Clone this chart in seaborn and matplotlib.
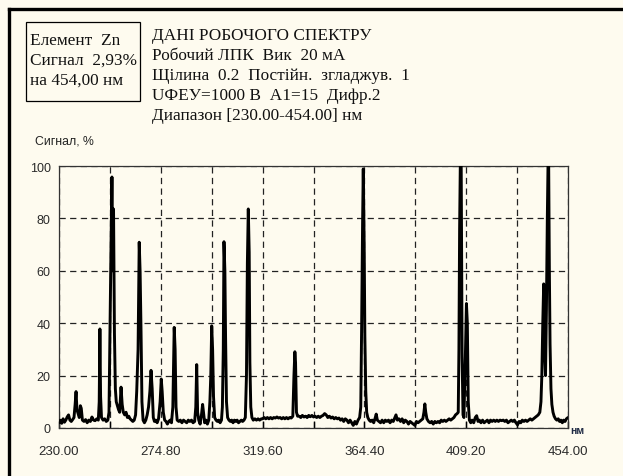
import matplotlib
matplotlib.use('Agg')
import matplotlib.pyplot as plt
from matplotlib.lines import Line2D
from matplotlib.patches import Rectangle
import seaborn as sns
import pandas as pd

# ---------------- data ----------------
wavelength = [
    230.0, 230.6, 231.2, 231.8, 232.4, 233.0, 233.6, 234.2, 234.8, 235.4,
    236.0, 236.6, 237.1, 237.5, 237.9, 238.4, 238.9, 239.4, 239.8, 240.3,
    241.0, 241.7, 242.4, 243.1, 243.8, 244.5, 245.2, 245.9, 246.6, 247.3,
    247.7, 248.0, 248.3, 248.7, 249.4, 250.1, 250.8, 251.5, 252.0, 252.5,
    252.9, 253.3, 253.7, 254.0, 254.4, 254.8, 255.2, 255.7, 256.2, 256.7,
    257.3, 257.8, 258.3, 258.9, 259.5, 260.1, 260.7, 261.3, 261.9, 262.5,
    263.1, 263.7, 264.2, 264.8, 265.3, 265.7, 266.1, 266.5, 267.0, 267.6,
    268.2, 268.8, 269.4, 270.0, 270.5, 271.0, 271.5, 272.0, 272.6, 273.2,
    273.8, 274.5, 275.0, 275.4, 275.9, 276.5, 277.1, 277.7, 278.3, 278.9,
    279.5, 280.1, 280.7, 281.1, 281.5, 282.0, 282.7, 283.4, 284.1, 284.8,
    285.5, 286.2, 286.9, 287.6, 288.3, 289.0, 289.7, 290.2, 290.6, 291.0,
    291.5, 292.1, 292.7, 293.2, 293.6, 294.1, 294.7, 295.3, 295.9, 296.4,
    296.8, 297.2, 297.6, 298.0, 298.5, 299.1, 299.7, 300.3, 300.9, 301.5,
    301.9, 302.3, 302.6, 303.0, 303.3, 303.7, 304.2, 304.8, 305.4, 306.0,
    306.6, 307.2, 307.8, 308.4, 309.0, 309.6, 310.2, 310.8, 311.4, 312.0,
    312.5, 312.9, 313.3, 313.7, 314.0, 314.4, 314.9, 315.5, 316.2, 316.9,
    317.6, 318.3, 319.0, 319.6, 320.3, 321.0, 321.7, 322.4, 323.1, 323.8,
    324.5, 325.2, 325.9, 326.6, 327.3, 328.0, 328.7, 329.4, 330.1, 330.8,
    331.5, 332.2, 332.9, 333.4, 333.8, 334.1, 334.5, 335.0, 335.7, 336.4,
    337.1, 337.8, 338.5, 339.2, 339.9, 340.6, 341.3, 342.0, 342.7, 343.4,
    344.1, 344.8, 345.5, 346.2, 346.9, 347.6, 348.3, 349.0, 349.7, 350.4,
    351.1, 351.8, 352.5, 353.2, 353.9, 354.6, 355.3, 356.0, 356.7, 357.4,
    358.1, 358.8, 359.5, 360.2, 360.9, 361.6, 362.3, 362.8, 363.2, 363.6,
    363.9, 364.3, 364.6, 365.0, 365.4, 365.9, 366.5, 367.1, 367.8, 368.5,
    369.2, 369.6, 370.1, 370.8, 371.5, 372.2, 372.9, 373.6, 374.3, 375.0,
    375.7, 376.4, 377.1, 377.8, 378.3, 378.9, 379.6, 380.3, 381.0, 381.7,
    382.4, 383.1, 383.8, 384.5, 385.2, 385.9, 386.6, 387.3, 388.0, 388.7,
    389.4, 390.1, 390.6, 391.0, 391.4, 391.9, 392.6, 393.3, 394.0, 394.7,
    395.4, 396.1, 396.8, 397.5, 398.2, 398.9, 399.6, 400.3, 401.0, 401.7,
    402.4, 403.1, 403.8, 404.5, 405.2, 405.7, 406.0, 406.3, 406.6, 407.0,
    407.4, 407.8, 408.2, 408.9, 409.3, 409.7, 410.1, 410.6, 411.2, 411.8,
    412.5, 413.2, 413.8, 414.4, 415.0, 415.7, 416.4, 417.1, 417.8, 418.5,
    419.2, 419.9, 420.6, 421.3, 422.0, 422.7, 423.4, 424.1, 424.8, 425.5,
    426.2, 426.9, 427.6, 428.3, 429.0, 429.7, 430.4, 431.1, 431.8, 432.5,
    433.2, 433.9, 434.6, 435.3, 436.0, 436.7, 437.4, 438.1, 438.8, 439.5,
    440.2, 440.9, 441.6, 442.1, 442.5, 442.9, 443.3, 443.7, 444.1, 444.5,
    444.9, 445.2, 445.5, 445.8, 446.1, 446.5, 446.9, 447.4, 447.9, 448.5,
    449.1, 449.7, 450.3, 450.9, 451.5, 452.1, 452.7, 453.3, 454.0,
]
signal = [
    2.0, 3.0, 1.8, 3.5, 2.2, 3.0, 4.2, 5.0, 3.0, 2.5,
    3.2, 4.0, 9.0, 13.9, 7.0, 5.5, 4.0, 8.5, 7.5, 3.0,
    2.5, 3.2, 2.0, 3.0, 2.5, 4.2, 3.0, 2.8, 3.5, 3.0,
    10.0, 37.8, 12.0, 4.0, 3.0, 3.5, 2.5, 3.0, 6.0, 43.0,
    70.0, 95.8, 60.0, 83.6, 36.0, 15.0, 10.0, 8.5, 7.0, 6.0,
    15.6, 9.0, 6.0, 5.0, 6.0, 4.0, 4.5, 3.5, 3.0, 2.5,
    3.0, 5.0, 14.0, 30.0, 70.9, 59.5, 37.0, 10.0, 3.0, 2.0,
    3.0, 5.0, 8.0, 14.0, 22.0, 15.0, 4.0, 2.5, 3.0, 2.0,
    3.5, 10.0, 18.7, 14.0, 6.0, 3.0, 2.5, 1.5, 2.5, 3.0,
    2.0, 8.0, 38.4, 30.0, 8.0, 3.0, 2.5, 3.0, 2.0, 3.0,
    2.5, 2.0, 3.0, 2.5, 3.0, 2.0, 2.5, 8.0, 24.2, 6.0,
    3.0, 1.5, 5.0, 9.0, 6.0, 2.0, 3.0, 1.5, 3.0, 10.0,
    20.0, 39.0, 30.0, 12.0, 4.0, 3.0, 2.5, 3.0, 2.0, 3.0,
    8.0, 30.0, 71.1, 60.0, 35.0, 10.0, 4.0, 3.0, 2.5, 3.0,
    2.0, 3.0, 2.5, 3.0, 2.0, 2.5, 3.0, 2.5, 3.0, 4.0,
    20.0, 63.0, 83.6, 67.0, 25.0, 8.0, 4.0, 3.0, 3.5, 3.0,
    3.5, 3.0, 3.5, 3.5, 4.0, 3.5, 4.0, 3.5, 4.0, 3.5,
    4.0, 3.8, 4.2, 3.8, 4.0, 3.5, 4.0, 3.5, 4.0, 3.5,
    4.0, 3.8, 4.5, 20.0, 29.1, 25.0, 6.0, 4.5, 4.5, 4.0,
    4.8, 4.2, 4.5, 4.0, 4.8, 4.3, 4.8, 4.2, 4.5, 4.0,
    4.5, 4.0, 4.5, 4.8, 5.5, 5.0, 4.0, 4.5, 3.8, 4.2,
    3.5, 4.0, 3.5, 3.8, 3.0, 3.5, 2.5, 3.5, 3.0, 2.0,
    3.0, 2.0, 1.0, 2.5, 1.5, 3.0, 4.0, 8.0, 40.0, 78.0,
    98.9, 70.0, 35.0, 14.0, 6.0, 4.0, 3.0, 2.5, 3.0, 2.0,
    4.0, 5.3, 3.0, 2.5, 2.0, 3.0, 2.0, 3.0, 2.5, 3.0,
    2.0, 3.0, 2.5, 4.0, 5.0, 3.0, 3.5, 2.5, 3.5, 2.0,
    3.0, 2.5, 1.5, 2.5, 2.0, 1.5, 1.0, 2.5, 2.0, 2.5,
    3.0, 3.5, 6.0, 9.2, 6.0, 3.5, 2.5, 2.0, 2.5, 1.5,
    2.5, 2.0, 2.5, 2.0, 3.0, 2.5, 3.0, 2.5, 3.0, 3.5,
    3.0, 3.5, 4.0, 5.0, 5.5, 6.0, 30.0, 76.0, 100.0, 100.0,
    27.0, 5.0, 4.0, 30.0, 47.5, 40.0, 10.0, 3.0, 2.0, 3.0,
    2.0, 4.0, 4.7, 2.5, 3.0, 2.0, 3.0, 2.0, 2.5, 3.0,
    2.0, 3.0, 2.5, 3.0, 2.5, 3.0, 2.5, 3.0, 2.8, 3.0,
    2.5, 3.0, 2.0, 2.5, 3.0, 2.5, 3.0, 2.0, 1.2, 2.5,
    2.0, 3.0, 2.5, 3.0, 2.5, 3.0, 3.5, 3.0, 3.5, 4.0,
    4.5, 5.0, 6.0, 10.0, 20.6, 40.0, 55.0, 30.0, 20.0, 45.0,
    80.0, 100.0, 100.0, 60.0, 32.0, 15.0, 9.0, 6.0, 4.5, 3.5,
    3.0, 3.5, 2.5, 3.0, 2.0, 3.0, 2.5, 3.5, 4.0,
]

x_ticks = [230.0, 252.4, 274.8, 297.2, 319.6, 342.0, 364.4, 386.8, 409.2, 431.6, 454.0]
x_tick_labels = ['230.00', '', '274.80', '', '319.60', '', '364.40', '', '409.20', '', '454.00']
y_ticks = [0, 20, 40, 60, 80, 100]
y_tick_labels = ['0', '20', '40', '60', '80', '100']

info_lines = ['Елемент  Zn', 'Сигнал  2,93%', 'на 454,00 нм']
header_lines = [
    'ДАНІ РОБОЧОГО СПЕКТРУ',
    'Робочий ЛПК  Вик  20 мА',
    'Щілина  0.2  Постійн.  згладжув.  1',
    'UФЕУ=1000 В  А1=15  Дифр.2',
    'Диапазон [230.00-454.00] нм',
]
y_label = 'Сигнал, %'
x_unit = 'нм'

# ---------------- styling ----------------
BG = '#fefbef'
W, H = 623, 477

sns.set_theme(style='white')
plt.rcParams['font.family'] = ['Liberation Sans', 'DejaVu Sans']

fig = plt.figure(figsize=(W / 100, H / 100), dpi=100, facecolor=BG)
ax = fig.add_axes([59 / W, 1 - 429 / H, 509 / W, 262 / H])
ax.set_facecolor(BG)

df = pd.DataFrame({'wavelength': wavelength, 'signal': signal})
sns.lineplot(data=df, x='wavelength', y='signal', ax=ax, color='black',
             linewidth=2.1, estimator=None, sort=False, zorder=3)

ax.set_xlim(230, 454)
ax.set_ylim(0, 100)
ax.set_xticks(x_ticks)
ax.set_xticklabels(x_tick_labels)
ax.set_yticks(y_ticks)
ax.set_yticklabels(y_tick_labels)
ax.set_xlabel('')
ax.set_ylabel('')

ax.tick_params(axis='x', direction='in', length=5, width=1, color='black',
               pad=12, labelsize=9.5, labelcolor='#2a2a2a', bottom=True)
ax.tick_params(axis='y', length=0, pad=6, labelsize=9, labelcolor='#2a2a2a')

for s in ax.spines.values():
    s.set_visible(True)
    s.set_color('#333333')
    s.set_linewidth(0.9)

ax.set_axisbelow(True)
ax.grid(True, axis='both', color='#222222', linestyle=(0, (5, 3.5)), linewidth=0.9)

# axis unit and label
fig.text(570 / W, 1 - 431 / H, x_unit, fontsize=7.5, fontweight='bold',
         color='#1f2a44', va='center', ha='left')
fig.text(35 / W, 1 - 142 / H, y_label, fontsize=8.8, color='#222222',
         va='center', ha='left')

# info box
fig.add_artist(Rectangle((25.5 / W, 1 - 102 / H), (140 - 25.5) / W, (102 - 23) / H,
                         transform=fig.transFigure, fill=False,
                         edgecolor='black', linewidth=0.9))
for i, t in enumerate(info_lines):
    fig.text(30 / W, 1 - (41 + 20 * i) / H, t, fontsize=12.4,
             family=['Liberation Serif', 'DejaVu Serif'], color='#111111',
             va='center', ha='left')

for i, t in enumerate(header_lines):
    fig.text(152 / W, 1 - (36.5 + 20 * i) / H, t, fontsize=12.4,
             family=['Liberation Serif', 'DejaVu Serif'], color='#111111',
             va='center', ha='left')

# outer frame lines
fig.add_artist(Line2D([9 / W, 9 / W], [0, 1 - 10 / H], transform=fig.transFigure,
                      color='black', linewidth=2.4, solid_capstyle='projecting'))
fig.add_artist(Line2D([9 / W, 1], [1 - 10 / H, 1 - 10 / H], transform=fig.transFigure,
                      color='black', linewidth=2.4, solid_capstyle='projecting'))

fig.savefig('out.png', dpi=100, facecolor=BG)
